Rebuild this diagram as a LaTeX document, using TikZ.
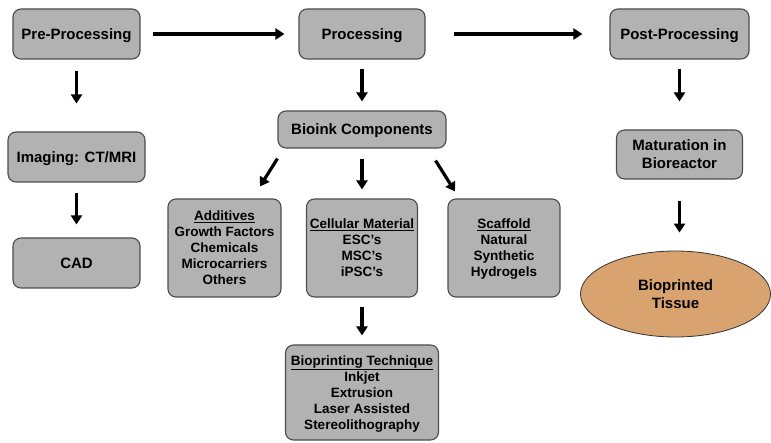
\documentclass[tikz,border=0pt]{standalone}
\usepackage{fontspec}
\setmainfont{Liberation Sans}
\usepackage{tikz}
\usetikzlibrary{shapes.geometric,arrows.meta}

\definecolor{boxgray}{RGB}{178,178,178}
\definecolor{tissuetan}{RGB}{217,163,112}

\begin{document}
\begin{tikzpicture}[x=1pt, y=-1pt]
		\tikzstyle{Box} 	= [draw=black!70, fill=boxgray, rounded corners=8pt, line width=1.1pt, align=center, inner sep=0pt, text depth=0pt, font=\fontsize{15}{18}\selectfont\bfseries]
		\tikzstyle{List}	= [Box, font=\fontsize{13.5}{16}\selectfont\bfseries]
		\tikzstyle{Tissue}	= [ellipse, draw=black!80, fill=tissuetan, line width=0.8pt, align=center, inner sep=0pt, font=\fontsize{15}{18}\selectfont\bfseries]
		\tikzstyle{Arr}		= [-{Triangle[length=9pt, width=11pt]}, line width=3.2pt, black]

		\useasboundingbox (0, 0) rectangle (771, 443);

		\node (pre) at (76.5, 34) [Box, minimum width=127pt, minimum height=50pt] {Pre-Processing};
		\node (proc) at (362, 34) [Box, minimum width=126pt, minimum height=50pt] {Processing};
		\node (post) at (679.5, 34) [Box, minimum width=139pt, minimum height=50pt] {Post-Processing};
		\node (imaging) at (76.5, 157) [Box, minimum width=137pt, minimum height=50pt] {Imaging: CT/MRI};
		\node (cad) at (76.5, 263) [Box, minimum width=127pt, minimum height=50pt] {CAD};
		\node (bioink) at (362, 129.5) [Box, minimum width=168pt, minimum height=37pt] {Bioink Components};
		\node (maturation) at (679.5, 154.5) [Box, minimum width=126pt, minimum height=49pt] {Maturation in\\Bioreactor};
		\node (additives) at (224.5, 248) [List, minimum width=113pt, minimum height=98pt] {\underline{Additives}\\Growth Factors\\Chemicals\\Microcarriers\\Others};
		\node (cellular) at (362, 248) [List, minimum width=111pt, minimum height=98pt] {\underline{Cellular Material}\\ESC’s\\MSC’s\\iPSC’s};
		\node (scaffold) at (504, 248) [List, minimum width=112pt, minimum height=98pt] {\underline{Scaffold}\\Natural\\Synthetic\\Hydrogels};
		\node (technique) at (362, 392.5) [List, minimum width=153pt, minimum height=95pt] {\underline{Bioprinting Technique}\\Inkjet\\Extrusion\\Laser Assisted\\Stereolithography};
		\node (tissue) at (675.5, 294) [Tissue, minimum width=190pt, minimum height=86pt] {Bioprinted\\Tissue};

		\draw (pre) to (proc) [Arr, shorten <=12pt, shorten >=14pt];
		\draw (proc) to (post) [Arr, shorten <=28pt, shorten >=27pt];
		\draw (pre) to (imaging) [Arr, shorten <=11pt, shorten >=28pt];
		\draw (imaging) to (cad) [Arr, shorten <=10pt, shorten >=13pt];
		\draw (proc) to (bioink) [Arr, shorten <=9pt, shorten >=9pt];
		\draw (post) to (maturation) [Arr, shorten <=9pt, shorten >=28pt];
		\draw (maturation) to (maturation |- tissue.north) [Arr, shorten <=21pt, shorten >=18pt];
		\draw ([yshift=-10pt]bioink.south west) to ([xshift=35.5pt, yshift=12pt]additives.north) [Arr];
		\draw (bioink) to (cellular) [Arr, shorten <=10pt, shorten >=9pt];
		\draw ([xshift=-11pt, yshift=-12pt]bioink.south east) to ([xshift=-49pt, yshift=7pt]scaffold.north) [Arr];
		\draw (cellular) to (technique) [Arr, shorten <=9pt, shorten >=9pt];
	\end{tikzpicture}
\end{document}
